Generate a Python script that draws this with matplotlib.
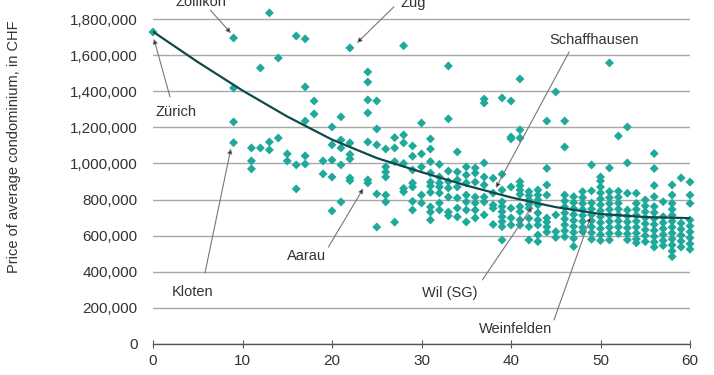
import matplotlib
matplotlib.use("Agg")
import matplotlib.pyplot as plt
from matplotlib.ticker import FuncFormatter

plt.rcParams['font.family'] = ['Liberation Sans', 'DejaVu Sans']

# travel time in minutes, one entry per column of points
minutes = [0, 9, 11, 12, 13, 14, 15, 16, 17, 18, 19, 20, 21, 22, 24, 25, 26, 27, 28,
           29, 30, 31, 32, 33, 34, 35, 36, 37, 38, 39, 40, 41, 42, 43, 44, 45, 46,
           47, 48, 49, 50, 51, 52, 53, 54, 55, 56, 57, 58, 59, 60]
# condo prices in 1000 CHF, one list per column above
prices_k = [
    [1728],
    [1695, 1418, 1230, 1115],
    [1086, 1014, 970],
    [1529, 1086],
    [1834, 1119, 1075],
    [1584, 1141],
    [1053, 1014],
    [1706, 992, 859],
    [1690, 1424, 1235, 1042, 997],
    [1346, 1274],
    [1014, 942],
    [1202, 1103, 1019, 925, 737],
    [1258, 1130, 1086, 992, 787],
    [1640, 1114, 1050, 1025, 920, 905],
    [1507, 1451, 1352, 1280, 1119, 909, 892],
    [1346, 1191, 1103, 831, 648],
    [1080, 981, 953, 925, 825, 787],
    [1143, 1086, 1010, 675],
    [1652, 1158, 1114, 1000, 862, 843],
    [1097, 1040, 964, 892, 870, 790, 742],
    [1224, 1053, 981, 825, 781],
    [1136, 1080, 1010, 947, 897, 875, 840, 759, 731, 687],
    [995, 925, 892, 870, 836, 781, 742],
    [1540, 1247, 958, 900, 864, 814, 731, 710],
    [1064, 953, 909, 870, 809, 753, 704],
    [981, 936, 892, 825, 787, 742, 676],
    [975, 947, 897, 814, 781, 742, 698],
    [1357, 1335, 1003, 925, 881, 814, 787, 715],
    [918, 836, 770, 752, 662],
    [1363, 940, 853, 788, 761, 733, 705, 678, 650, 576],
    [1346, 1147, 1136, 870, 752, 698, 659],
    [1468, 1186, 1141, 899, 877, 853, 829, 761, 733, 687, 659],
    [844, 822, 798, 774, 752, 696, 650, 576],
    [853, 825, 798, 770, 726, 687, 659, 604, 567],
    [1235, 973, 881, 825, 698, 676, 648, 620],
    [1396, 715, 622, 590],
    [1235, 1091, 825, 792, 759, 726, 693, 660, 627, 594],
    [816, 783, 750, 717, 684, 651, 618, 585, 540],
    [844, 811, 778, 745, 712, 679, 646, 622],
    [992, 848, 781, 748, 715, 682, 649, 616, 580],
    [925, 903, 870, 837, 804, 771, 738, 705, 672, 639, 606, 573],
    [1557, 975, 844, 811, 778, 745, 712, 679, 646, 613, 576],
    [1152, 846, 813, 780, 747, 714, 681, 648, 612],
    [1202, 1003, 835, 742, 709, 676, 643, 610, 577],
    [835, 779, 746, 713, 680, 647, 614, 581, 560],
    [798, 765, 732, 699, 666, 633, 600, 567],
    [1055, 972, 878, 816, 761, 728, 695, 662, 629, 596, 565, 537],
    [788, 705, 672, 639, 606, 573, 545],
    [881, 825, 779, 746, 713, 680, 647, 614, 581, 548, 515, 484],
    [920, 669, 636, 603, 570, 537],
    [897, 825, 779, 687, 654, 621, 588, 555, 525],
]

# trend line every 5 minutes (1000 CHF)
trend_min = [0, 5, 10, 15, 20, 25, 30, 35, 40, 45, 50, 55, 60]
trend_k = [1730, 1562, 1404, 1260, 1132, 1030, 952, 878, 812, 758, 720, 703, 697]

# town label, text position, arrow tail, arrow head (minutes, 1000 CHF)
towns = ["Zürich", "Zollikon", "Zug", "Kloten", "Aarau",
         "Schaffhausen", "Wil (SG)", "Weinfelden"]
label_pos = [(2.6, 1285), (5.3, 1895), (29.1, 1889), (4.4, 288), (17.1, 488),
             (49.3, 1684), (33.2, 283), (40.5, 83)]
arrow_tail = [(1.9, 1368), (6.4, 1850), (26.9, 1867), (5.8, 393), (19.6, 537),
              (46.5, 1618), (36.8, 355), (44.8, 133)]
arrow_head = [(0.1, 1690), (8.7, 1722), (22.8, 1668), (8.7, 1082), (23.5, 862),
              (38.3, 864), (42.35, 760), (48.9, 704)]

xs, ys = [], []
for m, col in zip(minutes, prices_k):
    for p in col:
        xs.append(m)
        ys.append(p * 1000)

fig = plt.figure(figsize=(7.14, 3.75), dpi=100)
ax = fig.add_axes([0.2143, 0.0827, 0.7521, 0.9147])

ax.scatter(xs, ys, marker='D', s=21, color='#1fa99a', edgecolors='none',
           zorder=3, clip_on=False)
ax.plot(trend_min, [v * 1000 for v in trend_k], color='#0f4a4a', lw=1.6, zorder=4)

for name, tp, tail, head in zip(towns, label_pos, arrow_tail, arrow_head):
    ax.text(tp[0], tp[1] * 1000, name, ha='center', va='center', fontsize=10.5,
            color='#333333', zorder=6, clip_on=False)
    ax.annotate('', xy=(head[0], head[1] * 1000), xytext=(tail[0], tail[1] * 1000),
                arrowprops=dict(arrowstyle='-|>', edgecolor='#777777', facecolor='black',
                                lw=0.8, mutation_scale=7, shrinkA=0, shrinkB=0),
                zorder=5, annotation_clip=False)

ax.set_xlim(0, 60)
ax.set_ylim(0, 1900000)
ax.set_xticks(range(0, 61, 10))
ax.set_yticks(range(0, 1800001, 200000))
ax.yaxis.set_major_formatter(FuncFormatter(lambda v, p: '{:,.0f}'.format(v)))

ax.yaxis.grid(True, color='#a8a8a8', lw=1.0)
ax.set_axisbelow(True)
for s in ['left', 'right', 'top']:
    ax.spines[s].set_visible(False)
ax.spines['bottom'].set_color('#555555')
ax.spines['bottom'].set_linewidth(1.0)

ax.tick_params(axis='y', length=0, pad=11, labelsize=11, labelcolor='#333333')
ax.tick_params(axis='x', direction='inout', length=6, color='#555555',
               pad=4, labelsize=11, labelcolor='#333333')

ax.set_ylabel('Price of average condominium, in CHF', fontsize=10.5, color='#333333')
ax.yaxis.set_label_coords(-0.246, 0.574)
ax.set_xlabel('Travel time to Zürich, in minutes', fontsize=10.5, color='#333333')
ax.xaxis.set_label_coords(0.385, -0.118)

fig.savefig('out.png', dpi=100)
